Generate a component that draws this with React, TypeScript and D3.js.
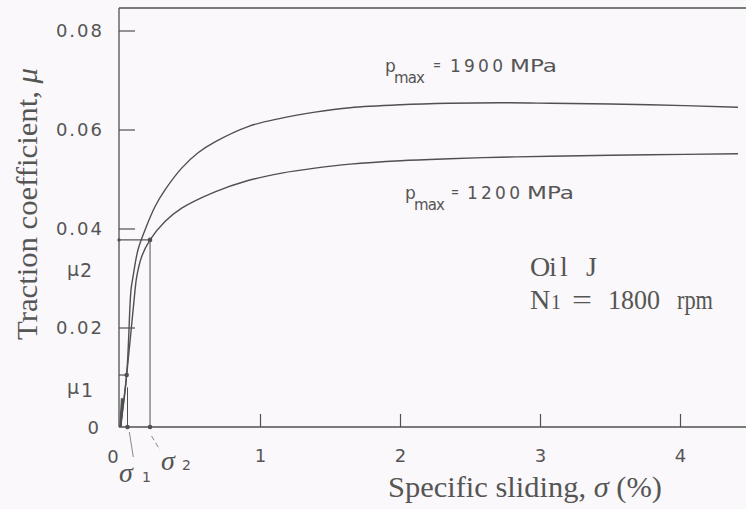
import React from "react";
import * as d3 from "d3";

const W = 746;
const H = 509;

// Series: specific sliding (%) vs traction coefficient
const sigma1900 = [0, 0.044, 0.075, 0.089, 0.125, 0.175, 0.246, 0.318, 0.437, 0.554, 0.675, 0.911, 1.151, 1.389, 1.64, 2.0, 2.35, 2.71, 3.07, 3.78, 4.41];
const mu1900 = [0, 0.0105, 0.0277, 0.0303, 0.0358, 0.0398, 0.0445, 0.0479, 0.0523, 0.0554, 0.0576, 0.0607, 0.0624, 0.0636, 0.0645, 0.0651, 0.0654, 0.0655, 0.0654, 0.0651, 0.0646];

const sigma1200 = [0, 0.044, 0.104, 0.116, 0.151, 0.211, 0.318, 0.437, 0.675, 0.911, 1.151, 1.389, 1.64, 2.0, 2.35, 2.71, 3.07, 3.78, 4.41];
const mu1200 = [0, 0.0105, 0.0277, 0.0304, 0.0344, 0.0378, 0.0415, 0.0442, 0.0475, 0.0498, 0.0513, 0.0523, 0.0531, 0.0538, 0.0542, 0.0545, 0.0547, 0.0550, 0.0552];

const xTicks = [1, 2, 3, 4];
const yTicks = [0.02, 0.04, 0.06, 0.08];
const yTickLabels = ["0.02", "0.04", "0.06", "0.08"];

// Marked points
const sigma1 = 0.05;
const mu1 = 0.0105;
const sigma2 = 0.211;
const mu2 = 0.0378;

const INK = "#505050";
const TXT = "#555";

export default function App() {
  const x = d3.scaleLinear().domain([0, 4.5]).range([120.5, 750.5]);
  const y = d3.scaleLinear().domain([0, 0.08]).range([427, 31]);
  const x0 = 119;
  const yTop = 8;
  const y0 = 427;

  const line = d3
    .line<[number, number]>()
    .x((d) => x(d[0]))
    .y((d) => y(d[1]))
    .curve(d3.curveCatmullRom.alpha(0.5));

  const d1900 = line(sigma1900.map((s, i) => [s, mu1900[i]] as [number, number])) || "";
  const d1200 = line(sigma1200.map((s, i) => [s, mu1200[i]] as [number, number])) || "";

  const num = { fontFamily: "DejaVu Sans", fontSize: 18, fill: TXT, letterSpacing: 2 } as const;
  const serif = { fontFamily: "Liberation Serif", fill: TXT } as const;
  const sans = { fontFamily: "DejaVu Sans", fill: TXT } as const;

  return (
    <svg width={W} height={H} style={{ position: "absolute", left: 0, top: 0, background: "#faf8fa" }}>
      <rect x={0} y={0} width={W} height={H} fill="#faf8fa" />
      {/* frame */}
      <line x1={x0} y1={yTop} x2={W} y2={yTop} stroke={INK} strokeWidth={1.3} />
      <line x1={x0} y1={yTop} x2={x0} y2={y0} stroke={INK} strokeWidth={1.3} />
      <line x1={x0} y1={y0} x2={W} y2={y0} stroke={INK} strokeWidth={1.3} />

      {/* y ticks */}
      {yTicks.map((t, i) => (
        <g key={"yt" + i}>
          <line x1={x0} x2={x0 + 16} y1={y(t)} y2={y(t)} stroke={INK} strokeWidth={1.2} />
          <text x={104} y={y(t) + 6} textAnchor="end" {...num}>
            {yTickLabels[i]}
          </text>
        </g>
      ))}
      <text x={101} y={y(0) + 7} textAnchor="end" {...num}>0</text>

      {/* x ticks */}
      {xTicks.map((t) => (
        <g key={"xt" + t}>
          <line x1={x(t)} x2={x(t)} y1={y0} y2={y0 - 13} stroke={INK} strokeWidth={1.2} />
          <text x={x(t) + 1} y={462} textAnchor="middle" {...num}>
            {String(t)}
          </text>
        </g>
      ))}
      <text x={114} y={463} textAnchor="middle" {...num}>0</text>

      {/* curves */}
      <path d={d1900} fill="none" stroke={INK} strokeWidth={1.4} />
      <path d={d1200} fill="none" stroke={INK} strokeWidth={1.4} />
      <line x1={x(0)} y1={y(0)} x2={x(0.012)} y2={y(0.0058)} stroke={INK} strokeWidth={2.6} />

      {/* mu2 / sigma2 construction */}
      <line x1={x0} y1={y(mu2)} x2={x(sigma2)} y2={y(mu2)} stroke={INK} strokeWidth={1.2} />
      <line x1={x(sigma2)} y1={y(mu2)} x2={x(sigma2)} y2={y0} stroke={INK} strokeWidth={1} />
      <circle cx={x(sigma2)} cy={y(mu2)} r={2.3} fill={INK} />
      <circle cx={x0} cy={y(mu2)} r={1.6} fill={INK} />
      <circle cx={x(sigma2)} cy={y0} r={2.3} fill={INK} />

      {/* mu1 / sigma1 construction */}
      <line x1={x0} y1={y(mu1)} x2={x(0.044)} y2={y(mu1)} stroke={INK} strokeWidth={1.2} />
      <line x1={x(sigma1)} y1={y(0.008)} x2={x(sigma1)} y2={y0} stroke={INK} strokeWidth={1} />
      <circle cx={x(0.044)} cy={y(mu1)} r={2.3} fill={INK} />
      <circle cx={x(sigma1)} cy={y0} r={2.3} fill={INK} />

      {/* leader lines */}
      <line x1={129.3} y1={432} x2={133.3} y2={457} stroke="#888" strokeWidth={1} />
      <line x1={151.5} y1={436} x2={160} y2={450} stroke="#888" strokeWidth={1} strokeDasharray="5 3" />

      {/* mu labels */}
      <text x={67} y={276} {...sans} fontSize={19}>μ</text>
      <text x={80} y={277} {...sans} fontSize={19}>2</text>
      <text x={67} y={394} {...sans} fontSize={19}>μ</text>
      <text x={81} y={397} {...sans} fontSize={19}>1</text>

      {/* sigma labels */}
      <text x={119} y={482} {...serif} fontStyle="italic" fontSize={28}>σ</text>
      <text x={142} y={482} {...sans} fontSize={14}>1</text>
      <text x={161} y={470} {...serif} fontStyle="italic" fontSize={28}>σ</text>
      <text x={182} y={470} {...sans} fontSize={14}>2</text>

      {/* pmax labels */}
      <text x={385} y={72} {...sans} fontSize={17}>p</text>
      <text x={394} y={83} {...sans} fontSize={15} textLength={31} lengthAdjust="spacing">max</text>
      <text x={433} y={70} {...sans} fontSize={14} textLength={8} lengthAdjust="spacingAndGlyphs">=</text>
      <text x={450} y={72} {...sans} fontSize={17} textLength={53} lengthAdjust="spacing">1900</text>
      <text x={510} y={72} {...sans} fontSize={17} textLength={47} lengthAdjust="spacingAndGlyphs">MPa</text>

      <text x={405} y={199} {...sans} fontSize={17}>p</text>
      <text x={414} y={210} {...sans} fontSize={15} textLength={31} lengthAdjust="spacing">max</text>
      <text x={451} y={197} {...sans} fontSize={14} textLength={8} lengthAdjust="spacingAndGlyphs">=</text>
      <text x={467} y={199} {...sans} fontSize={17} textLength={53} lengthAdjust="spacing">1200</text>
      <text x={527} y={199} {...sans} fontSize={17} textLength={47} lengthAdjust="spacingAndGlyphs">MPa</text>

      {/* Oil annotation */}
      <text x={530} y={276} {...serif} fontSize={28}>O</text>
      <text x={549} y={276} {...serif} fontSize={28}>i</text>
      <text x={560} y={276} {...serif} fontSize={28}>l</text>
      <text x={586} y={276} {...serif} fontSize={28}>J</text>
      <text x={530} y={309} {...serif} fontSize={28}>N</text>
      <text x={551} y={309} {...serif} fontSize={20}>1</text>
      <text x={572} y={309} {...serif} fontSize={28} textLength={20} lengthAdjust="spacingAndGlyphs">=</text>
      <text x={608} y={309} {...serif} fontSize={28} textLength={52} lengthAdjust="spacingAndGlyphs">1800</text>
      <text x={677} y={309} {...serif} fontSize={28} textLength={36} lengthAdjust="spacingAndGlyphs">rpm</text>

      {/* axis titles */}
      <text x={525} y={497} textAnchor="middle" {...serif} fontSize={30} textLength={274} lengthAdjust="spacingAndGlyphs">
        Specific sliding, <tspan fontStyle="italic">σ</tspan> (%)
      </text>
      <text
        transform="translate(37,204) rotate(-90)"
        textAnchor="middle"
        {...serif}
        fontSize={30}
        textLength={272}
        lengthAdjust="spacingAndGlyphs"
      >
        Traction coefficient, <tspan fontStyle="italic">μ</tspan>
      </text>
    </svg>
  );
}
